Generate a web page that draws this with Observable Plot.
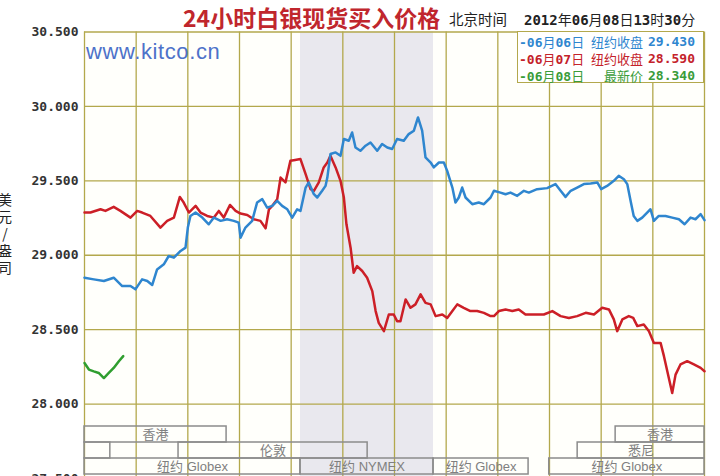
<!DOCTYPE html>
<html>
<head>
<meta charset="utf-8">
<script src="https://cdn.jsdelivr.net/npm/d3@7"></script>
<script src="https://cdn.jsdelivr.net/npm/@observablehq/plot@0.6"></script>
<style>
  html, body { margin: 0; padding: 0; background: #ffffff; }
  #wrap { position: relative; width: 720px; height: 476px; overflow: hidden; background: #fff; }
  #wrap svg { position: absolute; left: 0; top: 0; }
  .abs { position: absolute; white-space: nowrap; }
  #title { left: 183px; top: 3px; font: 700 23px/28px "Noto Sans CJK SC", sans-serif; color: #c0262d; }
  #bj { left: 449px; top: 9px; font: 400 14.5px/20px "Noto Sans CJK SC", sans-serif; color: #222; }
  #stamp { left: 524px; top: 9px; font: 700 14px/20px "DejaVu Sans Mono", "Noto Sans CJK SC", monospace; color: #222; }
  #stamp .c { font-family: "Noto Sans CJK SC", sans-serif; font-weight: 400; }
  #ylab { left: -4px; top: 192px; width: 18px; height: 85px; }
  #ylab div { position: absolute; left: 0; width: 18px; height: 14px; text-align: center; font: 400 14px/14px "Noto Sans CJK SC", sans-serif; color: #222; }
  #kitco { left: 86px; top: 38px; font: 400 22px/28px "Liberation Sans", Arial, sans-serif; color: #4d72c9; letter-spacing: 0.6px; }
  #legend { left: 517px; top: 31px; width: 187px; height: 52px; background: #fff; border: 1px solid #b3a84c; box-sizing: border-box; }
  .lg { position: absolute; left: 0; width: 187px; height: 17px; font: 700 13px/17px "DejaVu Sans Mono", monospace; }
  .lg > span { position: absolute; top: 0; }
  .lg > .d { left: 1px; }
  .lg > .n { right: 62px; font-family: "Noto Sans CJK SC", sans-serif; font-weight: 400; }
  .lg > .v { left: 130px; }
  .lg .cj { font-family: "Noto Sans CJK SC", sans-serif; font-weight: 400; }
</style>
</head>
<body>
<div id="wrap"></div>
<script>
// ---------- data (hours since chart start, price USD/oz) ----------
const seriesNames = ["06月06日 纽约收盘", "06月07日 纽约收盘", "06月08日 最新价"];
const seriesLastValues = [29.430, 28.590, 28.340];
const yLabelChars = ["美", "元", "/", "盎", "司"];

const blue = [[0,28.849],[0.36,28.838],[0.75,28.827],[1.13,28.849],[1.46,28.793],[1.78,28.793],[1.97,28.771],[2.23,28.838],[2.43,28.827],[2.62,28.800],[2.81,28.905],[3.07,28.939],[3.26,28.995],[3.46,28.984],[3.72,29.029],[3.91,29.051],[4.00,29.186],[4.10,29.264],[4.30,29.287],[4.56,29.253],[4.81,29.208],[5.01,29.253],[5.27,29.231],[5.52,29.242],[5.78,29.231],[5.97,29.219],[6.04,29.118],[6.23,29.186],[6.49,29.231],[6.68,29.354],[6.88,29.377],[7.07,29.320],[7.27,29.332],[7.46,29.365],[7.65,29.332],[7.85,29.309],[8.04,29.253],[8.23,29.309],[8.36,29.298],[8.56,29.455],[8.68,29.489],[8.88,29.410],[9.01,29.388],[9.20,29.433],[9.33,29.466],[9.40,29.522],[9.52,29.680],[9.72,29.691],[9.91,29.668],[10.04,29.781],[10.23,29.769],[10.36,29.825],[10.49,29.724],[10.68,29.702],[10.88,29.736],[11.07,29.758],[11.33,29.702],[11.52,29.747],[11.72,29.724],[11.91,29.714],[12.10,29.781],[12.36,29.769],[12.55,29.814],[12.75,29.837],[12.91,29.926],[13.07,29.837],[13.20,29.657],[13.40,29.623],[13.52,29.590],[13.72,29.623],[13.91,29.623],[14.04,29.567],[14.24,29.455],[14.36,29.354],[14.49,29.388],[14.62,29.455],[14.75,29.388],[15.01,29.343],[15.26,29.354],[15.46,29.343],[15.72,29.388],[15.85,29.433],[16.10,29.421],[16.30,29.410],[16.49,29.421],[16.75,29.399],[17.01,29.433],[17.20,29.421],[17.52,29.444],[17.91,29.451],[18.23,29.478],[18.43,29.433],[18.62,29.392],[18.82,29.433],[19.07,29.455],[19.33,29.478],[19.59,29.482],[19.85,29.489],[20.00,29.444],[20.23,29.466],[20.49,29.500],[20.68,29.534],[20.88,29.511],[21.01,29.478],[21.14,29.365],[21.26,29.264],[21.40,29.231],[21.59,29.253],[21.78,29.287],[21.91,29.309],[22.04,29.231],[22.23,29.264],[22.49,29.264],[22.75,29.253],[23.01,29.242],[23.23,29.208],[23.46,29.253],[23.65,29.242],[23.85,29.276],[24,29.236]];

const red = [[0,29.287],[0.23,29.287],[0.62,29.309],[0.81,29.298],[1.13,29.325],[1.39,29.298],[1.78,29.253],[2.04,29.298],[2.23,29.287],[2.55,29.264],[2.94,29.186],[3.20,29.231],[3.46,29.253],[3.69,29.392],[3.84,29.354],[4.04,29.287],[4.30,29.332],[4.49,29.287],[4.75,29.264],[5.01,29.253],[5.20,29.298],[5.39,29.253],[5.63,29.338],[5.85,29.298],[6.04,29.280],[6.30,29.271],[6.55,29.242],[6.81,29.231],[7.01,29.181],[7.14,29.309],[7.27,29.332],[7.46,29.377],[7.59,29.522],[7.78,29.489],[7.97,29.635],[8.10,29.639],[8.36,29.646],[8.56,29.545],[8.75,29.444],[8.88,29.433],[9.07,29.489],[9.26,29.590],[9.40,29.623],[9.52,29.668],[9.72,29.590],[9.91,29.500],[10.04,29.388],[10.14,29.208],[10.30,29.051],[10.42,28.882],[10.55,28.927],[10.75,28.894],[10.94,28.849],[11.14,28.759],[11.27,28.625],[11.39,28.546],[11.59,28.490],[11.78,28.602],[11.97,28.602],[12.10,28.557],[12.23,28.557],[12.43,28.703],[12.62,28.647],[12.81,28.670],[13.01,28.737],[13.20,28.680],[13.40,28.670],[13.59,28.591],[13.85,28.602],[14.04,28.579],[14.24,28.625],[14.43,28.670],[14.68,28.647],[14.94,28.625],[15.20,28.625],[15.46,28.613],[15.72,28.591],[15.85,28.591],[16.04,28.625],[16.30,28.636],[16.56,28.625],[16.81,28.636],[17.07,28.602],[17.39,28.602],[17.78,28.602],[18.11,28.625],[18.43,28.591],[18.75,28.579],[19.07,28.591],[19.40,28.613],[19.72,28.602],[20.04,28.647],[20.30,28.636],[20.49,28.569],[20.62,28.490],[20.82,28.569],[21.07,28.591],[21.24,28.579],[21.40,28.524],[21.65,28.535],[21.85,28.490],[22.04,28.411],[22.30,28.411],[22.43,28.322],[22.56,28.221],[22.75,28.074],[22.88,28.198],[23.07,28.266],[23.33,28.288],[23.59,28.266],[23.85,28.243],[24,28.221]];

const green = [[0,28.276],[0.17,28.232],[0.36,28.220],[0.55,28.209],[0.75,28.175],[0.94,28.209],[1.13,28.243],[1.33,28.288],[1.50,28.322]];

const yTicks = [27.5, 28.0, 28.5, 29.0, 29.5, 30.0, 30.5];
const gridHours = [0, 2, 4, 6, 8, 10, 12, 14, 16, 18, 20, 22, 24];

// trading sessions (bottom bars)
const sessionNames  = ["香港", "香港", "", "伦敦", "悉尼", "纽约 Globex", "纽约 NYMEX", "纽约 Globex", "纽约 Globex"];
const sessionRows   = [0, 0, 1, 1, 1, 2, 2, 2, 2];
const sessionStarts = [0, 20.56, 0, 3.64, 19.09, 0, 8.36, 13.51, 17.99];
const sessionEnds   = [5.5, 24, 1.0, 10.96, 24, 8.36, 13.51, 17.19, 24];

// ---------- build ----------
const toRows = arr => arr.map(([h, v]) => ({h, v}));
const sessions = sessionNames.map((name, i) => ({
  name, row: sessionRows[i], start: sessionStarts[i], end: sessionEnds[i],
  mid: (sessionStarts[i] + sessionEnds[i]) / 2
}));
const nymex = sessions.filter(d => d.name === "纽约 NYMEX");

const colors = {blue: "#2f86cf", red: "#cc1f27", green: "#2f9e2f", grid: "#b3a84c"};

const main = Plot.plot({
  width: 720, height: 480,
  marginLeft: 84, marginRight: 16, marginTop: 31.5, marginBottom: 2,
  style: {background: "transparent"},
  x: {domain: [0, 24], axis: null},
  y: {domain: [27.5, 30.5], axis: null},
  marks: [
    Plot.frame({fill: "#fffffb", stroke: null}),
    Plot.rect(nymex, {x1: "start", x2: "end", fill: "#e9e8ee"}),
    Plot.ruleX(gridHours, {stroke: colors.grid, strokeWidth: 1.3}),
    Plot.ruleY(yTicks, {stroke: colors.grid, strokeWidth: 1.3}),
    Plot.axisY({ticks: yTicks, tickFormat: d => d.toFixed(3), tickSize: 0, tickPadding: 6, label: null,
      fontSize: 13, fontWeight: "bold", fontFamily: "DejaVu Sans Mono, monospace", fill: "#333"}),
    Plot.line(toRows(red), {x: "h", y: "v", stroke: colors.red, strokeWidth: 2.5, strokeLinejoin: "round"}),
    Plot.line(toRows(blue), {x: "h", y: "v", stroke: colors.blue, strokeWidth: 2.5, strokeLinejoin: "round"}),
    Plot.line(toRows(green), {x: "h", y: "v", stroke: colors.green, strokeWidth: 2.5, strokeLinejoin: "round"})
  ]
});

const bars = Plot.plot({
  width: 720, height: 48,
  marginLeft: 84, marginRight: 16, marginTop: 0, marginBottom: 0,
  style: {background: "transparent", overflow: "visible"},
  x: {domain: [0, 24], axis: null},
  y: {domain: [0, 1, 2], axis: null, padding: 0},
  marks: [
    Plot.barX(sessions, {x1: "start", x2: "end", y: "row", fill: "none", stroke: "#8c8c8c", strokeWidth: 1.5}),
    Plot.text(sessions, {x: "mid", y: "row", text: "name", fill: "#808080", fontSize: 13,
      fontFamily: "Liberation Sans, Noto Sans CJK SC, sans-serif"})
  ]
});
bars.style.top = "426px";

const wrap = document.getElementById("wrap");
wrap.appendChild(main);
wrap.appendChild(bars);

function addDiv(id, html) {
  const d = document.createElement("div");
  d.id = id; d.className = "abs"; d.innerHTML = html;
  wrap.appendChild(d);
  return d;
}
addDiv("title", "24小时白银现货买入价格");
addDiv("bj", "北京时间");
addDiv("stamp", '2012<span class="c">年</span>06<span class="c">月</span>08<span class="c">日</span>13<span class="c">时</span>30<span class="c">分</span>');
addDiv("ylab", yLabelChars.map((c, i) => `<div style="top:${i * 17}px">${c}</div>`).join(""));
addDiv("kitco", "www.kitco.cn");

const legendColors = [colors.blue, "#c4222b", "#3a9c3a"];
const lg = addDiv("legend", "");
seriesNames.forEach((s, i) => {
  const [date, label] = s.split(" ");
  const m = date.match(/(\d+)月(\d+)日/);
  const row = document.createElement("div");
  row.className = "lg";
  row.style.top = (1 + i * 17) + "px";
  row.style.color = legendColors[i];
  row.innerHTML = `<span class="d">-${m[1]}<span class="cj">月</span>${m[2]}<span class="cj">日</span></span>` +
    `<span class="n">${label}</span><span class="v">${seriesLastValues[i].toFixed(3)}</span>`;
  lg.appendChild(row);
});
</script>
</body>
</html>
